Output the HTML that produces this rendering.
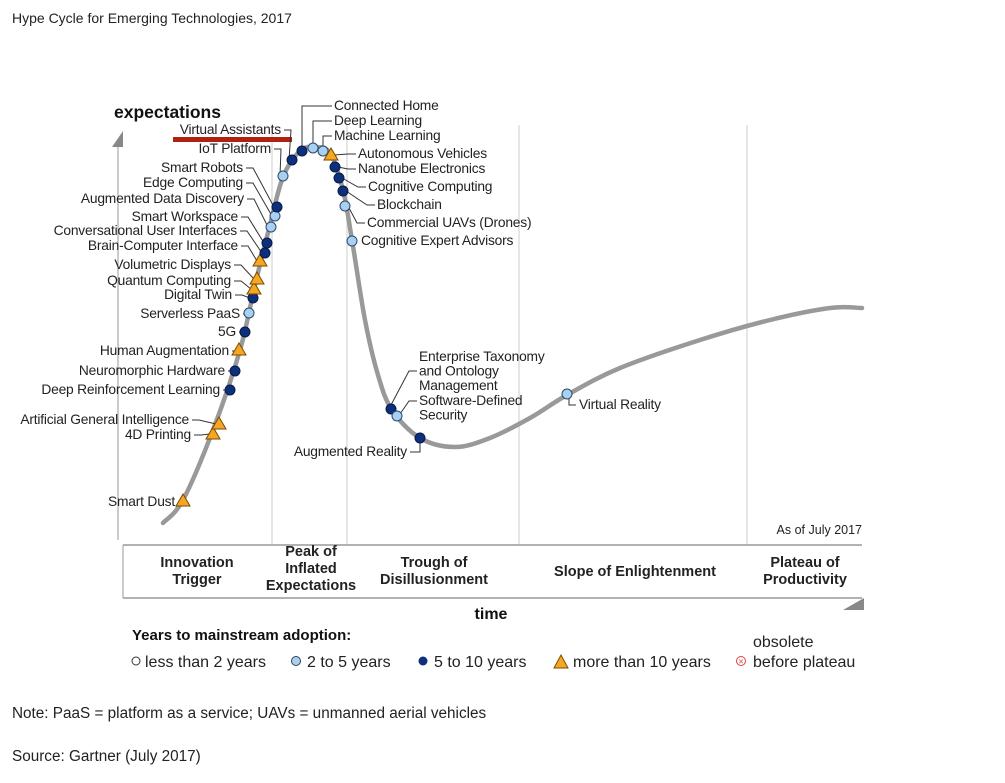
<!DOCTYPE html>
<html><head><meta charset="utf-8"><style>
body{margin:0;background:#fff;width:1005px;height:778px;overflow:hidden;font-family:"Liberation Sans",Arial,sans-serif}
svg text{font-family:"Liberation Sans",Arial,sans-serif}
</style></head><body>
<svg width="1005" height="778">
<text x="12" y="23" font-size="14" fill="#222">Hype Cycle for Emerging Technologies, 2017</text>
<g id="grid"></g>
<line x1="123" y1="545" x2="862" y2="545" stroke="#999" stroke-width="1.5"/>
<line x1="123" y1="598" x2="862" y2="598" stroke="#999" stroke-width="1.5"/>
<line x1="123" y1="545" x2="123" y2="598" stroke="#999" stroke-width="1"/>
<line x1="118" y1="140" x2="118" y2="540" stroke="#999" stroke-width="1"/>
<polygon points="112,147 123,147 123,131" fill="#888"/>
<polygon points="843,610 864,598 864,610" fill="#888"/>
<text x="114" y="118" font-size="17.5" font-weight="bold" fill="#111">expectations</text>
<text x="491" y="619" font-size="16" font-weight="bold" fill="#111" text-anchor="middle">time</text>
<text x="862" y="534" font-size="12.5" fill="#222" text-anchor="end">As of July 2017</text>
<g font-size="14.5" font-weight="bold" fill="#222" text-anchor="middle">
<text x="197" y="567"><tspan x="197">Innovation</tspan><tspan x="197" dy="17">Trigger</tspan></text>
<text x="311" y="556"><tspan x="311">Peak of</tspan><tspan x="311" dy="17">Inflated</tspan><tspan x="311" dy="17">Expectations</tspan></text>
<text x="434" y="567"><tspan x="434">Trough of</tspan><tspan x="434" dy="17">Disillusionment</tspan></text>
<text x="635" y="576">Slope of Enlightenment</text>
<text x="805" y="567"><tspan x="805">Plateau of</tspan><tspan x="805" dy="17">Productivity</tspan></text>
</g>
<path id="curve" fill="none" stroke="#999" stroke-width="4.5" stroke-linecap="round"/>
<rect x="173" y="137" width="119" height="5" fill="#b22010"/>
<g id="leaders" stroke="#333" stroke-width="1" fill="none"></g>
<g id="marks"></g>
<g id="labels" font-size="13.8" fill="#222" letter-spacing="-0.2"></g>
<g>
<text x="132" y="640" font-size="15" font-weight="bold" fill="#111">Years to mainstream adoption:</text>
<circle cx="136" cy="661" r="4" fill="#fff" stroke="#333"/>
<text x="145" y="667" font-size="16" fill="#222">less than 2 years</text>
<circle cx="296" cy="661" r="4.5" fill="#a9d0f0" stroke="#345"/>
<text x="307" y="667" font-size="16" fill="#222">2 to 5 years</text>
<circle cx="423" cy="661" r="4.5" fill="#0e2f7a"/>
<text x="434" y="667" font-size="16" fill="#222">5 to 10 years</text>
<polygon points="554,668 568,668 561,655" fill="#f5a623" stroke="#7a4a00"/>
<text x="573" y="667" font-size="16" fill="#222">more than 10 years</text>
<text x="753" y="647" font-size="16" fill="#222">obsolete</text>
<circle cx="741" cy="661" r="4.5" fill="#fff" stroke="#e04040"/>
<text x="741" y="664.5" font-size="9" fill="#e04040" text-anchor="middle">×</text>
<text x="753" y="667" font-size="16" fill="#222">before plateau</text>
</g>
<text x="12" y="718" font-size="15.3" fill="#222">Note: PaaS = platform as a service; UAVs = unmanned aerial vehicles</text>
<text x="12" y="761" font-size="15.3" fill="#222">Source: Gartner (July 2017)</text>
</svg>
<script>
// data
const curveT = [10,14,20,25.4,28.4,31.4,34,37.4,40.4,43.4,46,47.8,50.4,53,55.8,61.4,68.4,75.4,83.4,90.8,101.4,117.4,131.4,143.4,149.8];
const curveE = [4.4,9,23,39,52,64,73.6,78.8,79.6,78.4,71,61,45,34,27,21.4,19.6,21.4,25.4,30,35.4,41,45,47.4,47.4];
const techNames = ["Smart Dust","4D Printing","Artificial General Intelligence","Deep Reinforcement Learning","Neuromorphic Hardware","Human Augmentation","5G","Serverless PaaS","Digital Twin","Quantum Computing","Volumetric Displays","Brain-Computer Interface","Conversational User Interfaces","Smart Workspace","Augmented Data Discovery","Edge Computing","Smart Robots","IoT Platform","Virtual Assistants","Connected Home","Deep Learning","Machine Learning","Autonomous Vehicles","Nanotube Electronics","Cognitive Computing","Blockchain","Commercial UAVs (Drones)","Cognitive Expert Advisors","Enterprise Taxonomy and Ontology Management","Software-Defined Security","Augmented Reality","Virtual Reality"];
const techTime = [14,20,21.2,23.4,24.4,25.2,26.4,27.2,28,28.2,28.8,29.4,30.4,30.8,31.6,32.4,32.8,34,35.8,37.8,40,42,43.6,44.4,45.2,46,46.4,47.8,55.6,56.8,61.4,90.8];
const techExp = [8.8,22.2,24.2,31,34.8,39,42.6,46.4,49.4,51.2,53.2,56.8,58.4,60.4,63.6,65.8,67.6,73.8,77,78.8,79.4,78.8,78,75.6,73.4,70.8,67.8,60.8,27.2,25.8,21.4,30.2];
const techYears = ["T","T","T","D","D","T","D","L","D","T","T","T","D","D","L","L","D","L","D","D","L","L","T","D","D","D","L","L","D","L","D","L"];
const phaseBoundaries = [31.8,46.8,81.2,126.8];
// layout (label anchor positions, pixels)
const labelLayout = [
 [175,506,"e"],[191,439,"e"],[189,424,"e"],[220,394,"e"],[225,375,"e"],[229,355,"e"],[236,336,"e"],[240,318,"e"],[232,299,"e"],[231,285,"e"],[231,269,"e"],[238,250,"e"],[237,235,"e"],[238,221,"e"],[244,203,"e"],[243,187,"e"],[243,172,"e"],[271,153,"e"],[281,134,"e"],
 [334,110,"s"],[334,125,"s"],[334,140,"s"],[358,158,"s"],[358,173,"s"],[368,191,"s"],[377,209,"s"],[367,227,"s"],[361,245,"s"],[419,361,"s"],[419,405,"s"],[407,456,"e"],[579,409,"s"]];
const x = v => 113 + v*5;
const y = v => 545 - v*5;
const NS="http://www.w3.org/2000/svg";
function mk(tag,parent){const e=document.createElementNS(NS,tag);parent.appendChild(e);return e;}
const grid=document.getElementById('grid');
phaseBoundaries.forEach(b=>{const l=mk('line',grid);


l.setAttribute('x1',x(b));l.setAttribute('x2',x(b));l.setAttribute('y1',125);l.setAttribute('y2',545);l.setAttribute('stroke','#ddd');l.setAttribute('stroke-width','1.5');});
const P=curveT.map((t,i)=>[x(t),y(curveE[i])]);
let d="M"+P[0][0]+","+P[0][1];
for(let i=0;i<P.length-1;i++){const p0=P[Math.max(0,i-1)],p1=P[i],p2=P[i+1],p3=P[Math.min(P.length-1,i+2)];
d+=` C${p1[0]+(p2[0]-p0[0])/6},${p1[1]+(p2[1]-p0[1])/6} ${p2[0]-(p3[0]-p1[0])/6},${p2[1]-(p3[1]-p1[1])/6} ${p2[0]},${p2[1]}`;}
document.getElementById('curve').setAttribute('d',d);
const marks=document.getElementById('marks'),labels=document.getElementById('labels'),leaders=document.getElementById('leaders');
const extra={"Enterprise Taxonomy and Ontology Management":["Enterprise Taxonomy","and Ontology","Management"],"Software-Defined Security":["Software-Defined","Security"]};
techNames.forEach((n,i)=>{
 const px=x(techTime[i]),py=y(techExp[i]);
 const [lx,ly,anc]=labelLayout[i];
 const yl=ly-4;
 let pts=null;
 if(n==="Smart Dust"||n==="Cognitive Expert Advisors"){pts=null;}
 else if(anc==="e" && n!=="Augmented Reality"){pts=`${lx+3},${yl} ${lx+10},${yl} ${px-3},${py}`;}
 else if(["Connected Home","Deep Learning","Machine Learning"].includes(n)){pts=`${px},${py-4} ${px},${yl} ${lx-2},${yl}`;}
 else if(n==="Enterprise Taxonomy and Ontology Management"){pts=`${px},${py-4} ${lx-10},${ly+10} ${lx-2},${ly+10}`;}
 else if(n==="Software-Defined Security"){pts=`${px+3},${py-2} ${lx-10},${yl} ${lx-2},${yl}`;}
 else if(n==="Augmented Reality"){pts=`${px},${py+4} ${px},${yl} ${lx+3},${yl}`;}
 else if(n==="Virtual Reality"){pts=`${px+2},${py+4} ${px+2},${yl} ${lx-3},${yl}`;}
 else {pts=`${px+3},${py} ${lx-10},${yl} ${lx-2},${yl}`;}
 if(pts){const pl=mk('polyline',leaders);
 
 
 pl.setAttribute('points',pts);}
 let m;
 if(techYears[i]==="T"){m=mk('polygon',marks);
  m.setAttribute('points',`${px-7},${py+5} ${px+7},${py+5} ${px},${py-7}`);m.setAttribute('fill','#f5a623');m.setAttribute('stroke','#7a4a00');}
 else{m=mk('circle',marks);m.setAttribute('cx',px);m.setAttribute('cy',py);m.setAttribute('r',5);
  m.setAttribute('fill',techYears[i]==="D"?"#0e2f7a":"#a9d0f0");m.setAttribute('stroke',techYears[i]==="D"?"#061a4a":"#2a4a6a");}
 
 
 const t=mk('text',labels);
 
 
 t.setAttribute('text-anchor',anc==="e"?"end":"start");
 const lines=extra[n]||[n];
 lines.forEach((s,k)=>{const ts=mk('tspan',t);ts.setAttribute('x',lx);ts.setAttribute('y',ly+k*14.5);ts.textContent=s;});
});
</script>
</body></html>
